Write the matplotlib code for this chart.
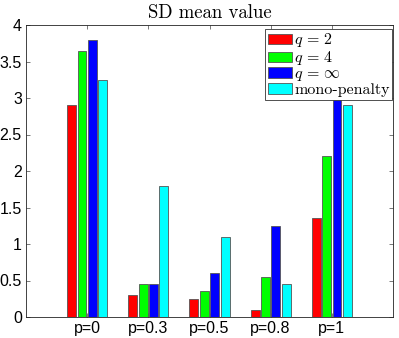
import matplotlib
matplotlib.use("Agg")
import matplotlib.pyplot as plt
import numpy as np

categories = ["p=0", "p=0.3", "p=0.5", "p=0.8", "p=1"]
q2 = [2.9, 0.3, 0.25, 0.1, 1.35]
q4 = [3.65, 0.45, 0.35, 0.55, 2.2]
qinf = [3.8, 0.45, 0.6, 1.25, 3.5]
mono = [3.25, 1.8, 1.1, 0.45, 2.9]
series = [q2, q4, qinf, mono]
labels = [r"$q\,=\,2$", r"$q\,=\,4$", r"$q\,=\,\infty$", "mono-penalty"]
colors = ["#ff0000", "#00ff00", "#0000ff", "#00ffff"]
yticks = [0, 0.5, 1, 1.5, 2, 2.5, 3, 3.5, 4]
ytick_labels = ["0", "0.5", "1", "1.5", "2", "2.5", "3", "3.5", "4"]

plt.rcParams["mathtext.fontset"] = "cm"

fig = plt.figure(figsize=(3.99, 3.38), dpi=100)
ax = fig.add_axes([26/399, 21/338, 367/399, 292/338])

x = np.arange(1, len(categories) + 1)
pitch = 0.17
width = 0.145
for i, (vals, c, lab) in enumerate(zip(series, colors, labels)):
    ax.bar(x + (i - 1.5) * pitch, vals, width, color=c, edgecolor="#555555",
           linewidth=0.6, label=lab, zorder=2)

ax.set_xlim(0, 6)
ax.set_ylim(0, 4)
ax.set_xticks(x)
ax.set_xticklabels(categories, fontsize=11.5, family="Liberation Sans")
ax.set_yticks(yticks)
ax.set_yticklabels(ytick_labels, fontsize=11.5, family="Liberation Sans")
ax.tick_params(direction="in", length=3, width=0.5, color="#444444",
               top=True, right=True, pad=3)
for s in ax.spines.values():
    s.set_linewidth(0.6)
    s.set_color("#222222")

ax.set_title("SD mean value", family="cmr10", fontsize=13.5, pad=5)

leg = ax.legend(loc="upper right", bbox_to_anchor=(0.997, 0.986),
                borderaxespad=0, fancybox=False, framealpha=1,
                edgecolor="#333333", prop={"family": "cmr10", "size": 11.5},
                handlelength=1.5, handleheight=0.65, labelspacing=0.0,
                borderpad=0.15, handletextpad=0.15)
leg.get_frame().set_linewidth(0.6)

fig.savefig("out.png", dpi=100)
